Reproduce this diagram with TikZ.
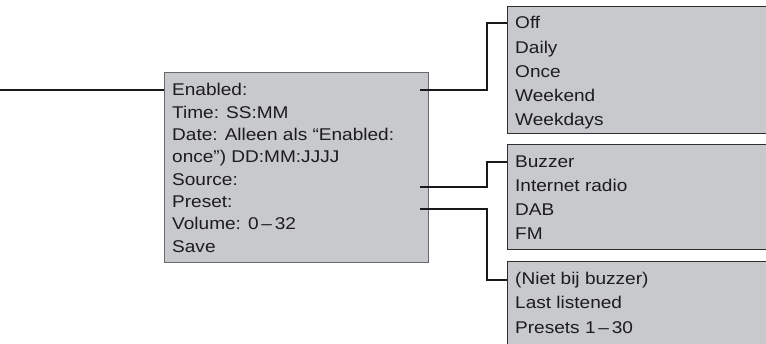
\documentclass[tikz,border=0pt]{standalone}
\usepackage{fontspec}
\setmainfont{Liberation Sans}[FakeStretch=1.12]
\definecolor{boxfill}{RGB}{200,201,204}
\definecolor{mainborder}{RGB}{105,105,105}
\definecolor{optborder}{RGB}{45,45,45}
\definecolor{linecol}{RGB}{25,25,25}
\definecolor{txtcol}{RGB}{28,28,28}
\tikzset{
  mainbox/.style={draw=mainborder, line width=1.2pt, fill=boxfill, anchor=north west, inner sep=0pt},
  optbox/.style={draw=optborder, line width=1.3pt, fill=boxfill, anchor=north west, inner sep=0pt, minimum width=270pt},
  itemtxt/.style={anchor=base west, inner sep=0pt, text=txtcol, font=\fontsize{17}{20}\selectfont},
  conn/.style={draw=linecol, line width=1.8pt}
}
\begin{document}
\begin{tikzpicture}[x=1pt,y=1pt]
\useasboundingbox (0,0) rectangle (766,343);
\begin{scope}
\clip (0,0) rectangle (766,343);
% boxes
\node[mainbox, minimum width=264pt, minimum height=190pt] (main) at (164,271) {};
\node[optbox, minimum height=127pt] (topbox) at (507,337) {};
\node[optbox, minimum height=105pt] (midbox) at (507,199) {};
\node[optbox, minimum height=100pt] (botbox) at (507,82) {};

% main texts
\node[itemtxt] (en)  at (172,247.0) {Enabled:};
\node[itemtxt] (tim) at (172,224.7) {Time: SS:MM};
\node[itemtxt] (dat) at (172,202.4) {Date: Alleen als “Enabled:};
\node[itemtxt] (onc) at (172,180.1) {once”) DD:MM:JJJJ};
\node[itemtxt] (src) at (172,157.8) {Source:};
\node[itemtxt] (pre) at (172,135.5) {Preset:};
\node[itemtxt] (vol) at (172,113.2) {Volume: 0\,–\,32};
\node[itemtxt] (sav) at (172,90.9)  {Save};

% top box texts
\node[itemtxt] (off) at (515,314.0) {Off};
\node[itemtxt] (dai) at (515,289.8) {Daily};
\node[itemtxt] (onx) at (515,265.5) {Once};
\node[itemtxt] (wke) at (515,241.3) {Weekend};
\node[itemtxt] (wkd) at (515,217.0) {Weekdays};

% mid box texts
\node[itemtxt] (buz) at (515,175.0) {Buzzer};
\node[itemtxt] (inr) at (515,151.3) {Internet radio};
\node[itemtxt] (dab) at (515,127.6) {DAB};
\node[itemtxt] (fm)  at (515,103.9) {FM};

% bottom box texts
\node[itemtxt] (nie) at (515,59.0) {(Niet bij buzzer)};
\node[itemtxt] (las) at (515,34.5) {Last listened};
\node[itemtxt] (prs) at (515,10.0) {Presets 1\,–\,30};

% connectors
\coordinate (lstart) at (0,253);
\draw[conn] (lstart) -- (main.west |- lstart);
\coordinate (enS) at (420,253);
\coordinate (srcS) at (420,156);
\coordinate (preS) at (420,134);
\draw[conn] (enS) -- ++(67,0) |- (topbox.west |- off.west);
\draw[conn] (srcS) -- ++(67,0) |- (midbox.west |- buz.west);
\draw[conn] (preS) -- ++(67,0) |- (botbox.west |- nie.west);
\end{scope}
\end{tikzpicture}
\end{document}
